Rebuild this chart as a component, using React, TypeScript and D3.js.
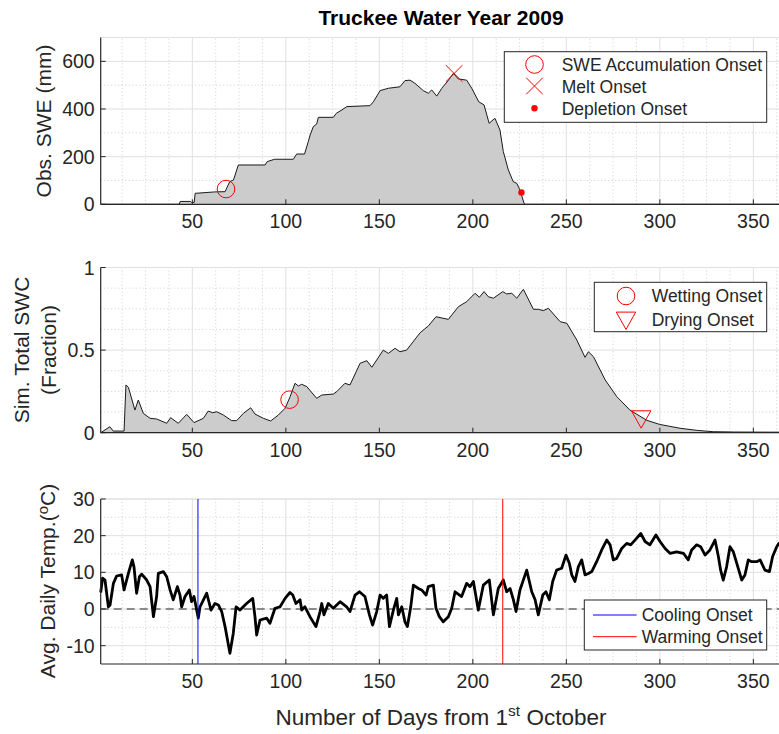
import React from "react";
import * as d3 from "d3";

// ---------------- data ----------------
const sweDays = [1, 43, 43.5, 49, 49.5, 51, 51.5, 62, 67.5, 70, 72, 74.6, 88.9, 90, 94, 104, 105.8, 110, 112, 113, 114.7, 116.5, 117.4, 125.4, 127, 130, 132.6, 145, 146.8, 150.4, 154.8, 161, 163.7, 166.4, 169, 173.5, 176.2, 178, 180.7, 183.4, 187, 189.6, 192.2, 196.7, 199.4, 203.2, 206, 208.7, 211.8, 214.5, 216.3, 219, 221.6, 223.5, 225.2, 227.4, 228, 365];
const sweVals = [0, 0, 12, 12, 8, 8, 46, 52, 53, 95, 102, 165, 165, 179, 189, 189, 211, 211, 263, 291, 326, 337, 365, 365, 382, 396, 410, 414, 430, 477, 487, 493, 519, 521, 508, 477, 466, 480, 454, 487, 521, 550, 526, 521, 487, 430, 417, 340, 361, 312, 221, 144, 95, 88, 60, 4, 0, 0];

const swcDays = [1, 5.9, 7.7, 13.5, 14.5, 15.8, 19.3, 21.1, 23.8, 27.4, 30.9, 36.3, 38.4, 42.5, 47, 50.9, 55.9, 58.5, 60.9, 63, 66.6, 71, 73.7, 77.3, 81.2, 83.5, 88, 91.9, 96, 99.6, 102.3, 104.9, 106.7, 108.5, 111.2, 116.5, 119.2, 125.4, 127.2, 131.6, 134.3, 139.7, 143.3, 146, 152.1, 154.8, 158.4, 161, 164.6, 171.8, 176.2, 180.3, 186.9, 192.3, 196.7, 201.2, 203.5, 206, 208.3, 211, 216, 218.1, 220.8, 223.5, 227, 232.4, 235, 237.7, 240.4, 246.7, 250.3, 255.6, 260, 261.8, 264.5, 270.8, 277, 284, 293, 300, 310.8, 320, 328.6, 340, 365];
const swcVals = [0, 0.036, 0.01, 0.01, 0.289, 0.275, 0.137, 0.198, 0.117, 0.087, 0.083, 0.057, 0.091, 0.057, 0.111, 0.061, 0.087, 0.131, 0.121, 0.127, 0.107, 0.073, 0.073, 0.117, 0.151, 0.113, 0.087, 0.071, 0.107, 0.148, 0.218, 0.299, 0.283, 0.293, 0.279, 0.208, 0.228, 0.234, 0.248, 0.299, 0.289, 0.42, 0.436, 0.396, 0.5, 0.48, 0.511, 0.49, 0.5, 0.605, 0.646, 0.702, 0.686, 0.763, 0.793, 0.844, 0.82, 0.854, 0.823, 0.814, 0.854, 0.84, 0.844, 0.814, 0.868, 0.747, 0.747, 0.739, 0.753, 0.672, 0.662, 0.561, 0.456, 0.49, 0.46, 0.319, 0.218, 0.137, 0.075, 0.05, 0.027, 0.014, 0.006, 0.004, 0.003];

const tempDays = [1, 2, 3.3, 5.1, 6, 7.8, 9.5, 12.2, 13.5, 15.8, 17.9, 18.8, 20.2, 21.7, 22.9, 25.6, 27.4, 29.2, 30.9, 31.8, 34.5, 36.3, 38.1, 39.8, 42, 43.4, 44.3, 46.1, 48.4, 49.6, 50.9, 53.2, 54.1, 57.7, 60, 62.1, 63.9, 65.7, 67.5, 70.1, 71.9, 73.4, 75.5, 79, 82.3, 83.5, 84.4, 86.2, 89.8, 91.5, 94.2, 96.9, 99.6, 102.2, 103.7, 105.4, 107.6, 108.5, 110.2, 112.9, 116.1, 118.3, 119.2, 120.4, 122.7, 125.4, 129, 132.5, 134.3, 137, 139.3, 142.3, 144.7, 146.4, 148.6, 150.4, 152.1, 153.9, 155.4, 157.5, 159.3, 160.2, 162, 163.7, 165, 166.8, 168.2, 170.9, 172.6, 175, 176.2, 178.9, 180.3, 182.1, 184.2, 186.9, 188.7, 190.5, 194, 196.7, 198.5, 200.3, 202.9, 205.6, 208.8, 211, 213.6, 216.3, 218.1, 219.9, 221.7, 223.1, 225.2, 228.8, 231.5, 233.3, 235, 237.4, 239.1, 240.9, 242.7, 244.8, 247.5, 249.8, 251.6, 252.9, 254.6, 256.4, 258.2, 260, 261.8, 263.6, 266.2, 268.9, 271.6, 273.4, 275.1, 276.9, 279.6, 282.3, 284.4, 286.7, 289.8, 292.1, 294.7, 297.9, 300.1, 302.8, 305.4, 309, 312.6, 315.2, 317, 319.7, 321.8, 324.2, 326.8, 329.5, 331.3, 332.5, 333.9, 335.7, 337.5, 339.3, 341.1, 343.8, 345.5, 347.3, 349.1, 351.8, 353.6, 356.2, 358.6, 360.3, 362.5, 363.7, 365];
const tempVals = [4.5, 8.4, 7.9, 0.6, 1.1, 7, 9, 9.3, 5.2, 9.7, 13.4, 11.5, 4.3, 8.8, 9.5, 7.9, 6.1, -2.1, 3.4, 9.7, 10.2, 8.8, 5.2, 2.5, 6.1, 3.8, 0.6, 3.4, 5.2, 2, 3.4, -2.5, 0.6, 4.3, -0.3, 1.5, 1.1, -0.7, -4.8, -12.1, -6.6, 0.6, -0.3, 1.5, 2.9, -2.1, -7.1, -3, -2.5, -3.9, 0.2, 0.6, 2.9, 4.5, 3.8, 1.5, 2.5, -0.3, 0.6, -2.1, -4.8, -0.7, 1.5, -1.6, 1.5, 0.2, 2, 0.6, -0.7, 3.8, 4.7, 3.4, -1.6, -4.4, -0.7, 3.8, 2.9, 3.8, -4.8, -0.3, 2.9, -1.6, 0.6, -3.5, -4.8, 0.6, 6.5, 5.6, 5.2, 3.8, 6.1, 6.5, 0.2, -2.1, -3.5, -2.1, 0.2, 4.7, 3.4, 7, 6.1, 7.5, -0.3, 6.5, 7.9, -1.6, 5.6, 7.9, 4.7, 5.6, 2.5, -0.7, 5.2, 10.6, 4.7, 2.5, -1.6, 3.8, 4.7, 2.5, 7.5, 10.6, 11.1, 14.7, 12.5, 9.3, 7.5, 11.5, 13.4, 9.3, 9.7, 10.2, 12.9, 16.1, 18.8, 17.5, 13.4, 13.8, 16.5, 17.9, 17.5, 18.8, 20.6, 18.4, 17.5, 20.2, 18.4, 16.5, 15.2, 15.6, 15.2, 13.4, 16.1, 17.5, 17, 14.7, 16.1, 18.8, 14.3, 10.6, 7.9, 11.5, 17, 15.6, 12.5, 7.9, 9.3, 13.4, 12.9, 12.9, 13.4, 10.6, 10.2, 14.3, 17, 17.9, 18];

// onset markers
const sweAccumOnset = [68, 64];
const meltOnset = [190, 549];
const depletionOnset = [226, 50];
const wettingOnset = [102, 0.2];
const dryingOnset = [290, 0.08];
const coolingOnsetDay = 53;
const warmingOnsetDay = 216;

const xTicks = [50, 100, 150, 200, 250, 300, 350];
const sweTicks = [0, 200, 400, 600];
const swcTicks = [0, 0.5, 1];
const tempTicks = [-10, 0, 10, 20, 30];

// ---------------- layout ----------------
const W = 779, H = 734;
const FONT = "'Liberation Sans', Arial, Helvetica, sans-serif";
const TXT = "#262626";
const TICK_FS = 19.5;
const LABEL_FS = 21;
const x = d3.scaleLinear().domain([1, 365]).range([100.7, 781.4]);

const xMinor = d3.range(12.5, 365, 12.5).filter((d) => d % 50 !== 0);

type PanelProps = {
  y: d3.ScaleLinear<number, number>;
  ticks: number[];
  minor: number[];
  fmt: (d: number) => string;
  children?: React.ReactNode;
};

function Panel({ y, ticks, minor, fmt, children }: PanelProps) {
  const [y0, y1] = y.range();
  const [x0, x1] = x.range();
  return (
    <g>
      {xMinor.map((d) => (
        <line key={"xm" + d} x1={x(d)} x2={x(d)} y1={y0} y2={y1} stroke="#c4c4c4" strokeWidth={0.8} strokeDasharray="1,2.5" />
      ))}
      {minor.map((d) => (
        <line key={"ym" + d} x1={x0} x2={x1} y1={y(d)} y2={y(d)} stroke="#c4c4c4" strokeWidth={0.8} strokeDasharray="1,2.5" />
      ))}
      {xTicks.map((d) => (
        <line key={"xg" + d} x1={x(d)} x2={x(d)} y1={y0} y2={y1} stroke="#e0e0e0" strokeWidth={1} />
      ))}
      {ticks.map((d) => (
        <line key={"yg" + d} x1={x0} x2={x1} y1={y(d)} y2={y(d)} stroke="#e0e0e0" strokeWidth={1} />
      ))}
      <line x1={x0} x2={x1} y1={y1} y2={y1} stroke="#e0e0e0" strokeWidth={1} />
      {children}
      <line x1={x0} x2={x1} y1={y0} y2={y0} stroke={TXT} strokeWidth={1.2} />
      <line x1={x0} x2={x0} y1={y0} y2={y1} stroke={TXT} strokeWidth={1.2} />
      {xTicks.map((d) => (
        <g key={"xt" + d}>
          <line x1={x(d)} x2={x(d)} y1={y0} y2={y0 - 5} stroke={TXT} strokeWidth={1} />
          <text x={x(d)} y={y0 + 24} textAnchor="middle" fontSize={TICK_FS} fill={TXT} fontFamily={FONT}>{d}</text>
        </g>
      ))}
      {ticks.map((d) => (
        <g key={"yt" + d}>
          <line x1={x0} x2={x0 + 5} y1={y(d)} y2={y(d)} stroke={TXT} strokeWidth={1} />
          <text x={x0 - 6} y={y(d)} dy="0.36em" textAnchor="end" fontSize={TICK_FS} fill={TXT} fontFamily={FONT}>{fmt(d)}</text>
        </g>
      ))}
    </g>
  );
}

function Legend({ x0, y0, x1, y1, children }: { x0: number; y0: number; x1: number; y1: number; children?: React.ReactNode }) {
  return (
    <g>
      <rect x={x0} y={y0} width={x1 - x0} height={y1 - y0} fill="white" stroke={TXT} strokeWidth={1} />
      {children}
    </g>
  );
}

const LTxt = ({ x: tx, y: ty, t }: { x: number; y: number; t: string }) => (
  <text x={tx} y={ty} dy="0.36em" fontSize={17.5} fill={TXT} fontFamily={FONT}>{t}</text>
);

const Circ = ({ cx, cy }: { cx: number; cy: number }) => <circle cx={cx} cy={cy} r={8.8} fill="none" stroke="#ff0000" strokeWidth={1} />;
const XMark = ({ cx, cy }: { cx: number; cy: number }) => (
  <g stroke="#ff0000" strokeWidth={1}>
    <line x1={cx - 8.3} y1={cy - 8.3} x2={cx + 8.3} y2={cy + 8.3} />
    <line x1={cx - 8.3} y1={cy + 8.3} x2={cx + 8.3} y2={cy - 8.3} />
  </g>
);
const Dot = ({ cx, cy }: { cx: number; cy: number }) => <circle cx={cx} cy={cy} r={3.2} fill="#ff0000" />;
const Tri = ({ cx, cy }: { cx: number; cy: number }) => (
  <path d={`M${cx - 9.7},${cy - 8.7}L${cx + 9.7},${cy - 8.7}L${cx},${cy + 8.7}Z`} fill="none" stroke="#ff0000" strokeWidth={1} />
);

export default function App() {
  const y1 = d3.scaleLinear().domain([0, 700]).range([204.3, 37.5]);
  const y2 = d3.scaleLinear().domain([0, 1]).range([432.7, 267.5]);
  const y3 = d3.scaleLinear().domain([-15, 30]).range([664, 499]);

  const swe = sweDays.map((d, i) => [d, sweVals[i]] as [number, number]);
  const swc = swcDays.map((d, i) => [d, swcVals[i]] as [number, number]);
  const tmp = tempDays.map((d, i) => [d, tempVals[i]] as [number, number]);

  const area1 = d3.area<[number, number]>().x((d) => x(d[0])).y0(y1(0)).y1((d) => y1(d[1]));
  const line1 = d3.line<[number, number]>().x((d) => x(d[0])).y((d) => y1(d[1]));
  const area2 = d3.area<[number, number]>().x((d) => x(d[0])).y0(y2(0)).y1((d) => y2(d[1]));
  const line2 = d3.line<[number, number]>().x((d) => x(d[0])).y((d) => y2(d[1]));
  const line3 = d3.line<[number, number]>().x((d) => x(d[0])).y((d) => y3(d[1]));

  const sweMinor = [100, 300, 500];
  const swcMinor = d3.range(0.125, 1, 0.125).filter((d) => Math.abs(d - 0.5) > 1e-6);
  const tempMinor = [-5, 5, 15, 25];

  return (
    <svg width={W} height={H} style={{ position: "absolute", left: 0, top: 0, display: "block", background: "white" }} fontFamily={FONT}>
      <rect width={W} height={H} fill="white" />
      <text x={441} y={25} textAnchor="middle" fontSize={21} fontWeight="bold" fill="#000">Truckee Water Year 2009</text>

      {/* Panel 1 */}
      <Panel y={y1} ticks={sweTicks} minor={sweMinor} fmt={(d) => String(d)}>
        <path d={area1(swe) || ""} fill="#cccccc" stroke="none" />
        <path d={line1(swe) || ""} fill="none" stroke="#1a1a1a" strokeWidth={1} />
        <Circ cx={x(sweAccumOnset[0])} cy={y1(sweAccumOnset[1])} />
        <XMark cx={x(meltOnset[0])} cy={y1(meltOnset[1])} />
        <Dot cx={x(depletionOnset[0])} cy={y1(depletionOnset[1])} />
      </Panel>
      <text transform={`translate(51,121) rotate(-90)`} textAnchor="middle" fontSize={LABEL_FS} fill={TXT}>Obs. SWE (mm)</text>
      <Legend x0={504.3} y0={51.7} x1={766.7} y1={122.3}>
        <Circ cx={534.5} cy={64.5} />
        <LTxt x={561.7} y={64.5} t="SWE Accumulation Onset" />
        <XMark cx={534.5} cy={86} />
        <LTxt x={561.7} y={86.5} t="Melt Onset" />
        <Dot cx={534.5} cy={108.3} />
        <LTxt x={561.7} y={108.5} t="Depletion Onset" />
      </Legend>

      {/* Panel 2 */}
      <Panel y={y2} ticks={swcTicks} minor={swcMinor} fmt={(d) => String(d)}>
        <path d={area2(swc) || ""} fill="#cccccc" stroke="none" />
        <path d={line2(swc) || ""} fill="none" stroke="#1a1a1a" strokeWidth={1} />
        <Circ cx={x(wettingOnset[0])} cy={y2(wettingOnset[1])} />
        <Tri cx={x(dryingOnset[0])} cy={y2(dryingOnset[1])} />
      </Panel>
      <text transform={`translate(28.5,350) rotate(-90)`} textAnchor="middle" fontSize={LABEL_FS} fill={TXT}>Sim. Total SWC</text>
      <text transform={`translate(55.5,350) rotate(-90)`} textAnchor="middle" fontSize={LABEL_FS} fill={TXT}>(Fraction)</text>
      <Legend x0={594.3} y0={282.3} x1={766.7} y1={331.7}>
        <Circ cx={626} cy={296} />
        <LTxt x={651.7} y={296} t="Wetting Onset" />
        <Tri cx={626} cy={320.8} />
        <LTxt x={651.7} y={319.5} t="Drying Onset" />
      </Legend>

      {/* Panel 3 */}
      <Panel y={y3} ticks={tempTicks} minor={tempMinor} fmt={(d) => String(d)}>
        <line x1={x(1)} x2={x(365)} y1={y3(0)} y2={y3(0)} stroke="#262626" strokeWidth={1} strokeDasharray="8,5" />
        <path d={line3(tmp) || ""} fill="none" stroke="#000" strokeWidth={2.8} strokeLinejoin="round" />
        <line x1={x(coolingOnsetDay)} x2={x(coolingOnsetDay)} y1={y3(-15)} y2={y3(30)} stroke="#0000ff" strokeWidth={1} />
        <line x1={x(warmingOnsetDay)} x2={x(warmingOnsetDay)} y1={y3(-15)} y2={y3(30)} stroke="#ff0000" strokeWidth={1} />
      </Panel>
      <text transform={`translate(55,581) rotate(-90)`} textAnchor="middle" fontSize={LABEL_FS} fill={TXT}>
        Avg. Daily Temp.(<tspan dy={-7.5} fontSize={15}>o</tspan><tspan dy={7.5}>C)</tspan>
      </text>
      <Legend x0={584.3} y0={600} x1={766.7} y1={650}>
        <line x1={593} x2={636.7} y1={615} y2={615} stroke="#0000ff" strokeWidth={1} />
        <LTxt x={641.7} y={615} t="Cooling Onset" />
        <line x1={593} x2={636.7} y1={636.7} y2={636.7} stroke="#ff0000" strokeWidth={1} />
        <LTxt x={641.7} y={636.7} t="Warming Onset" />
      </Legend>

      <text x={441} y={725} textAnchor="middle" fontSize={22.5} fill={TXT}>
        Number of Days from 1<tspan dy={-9} fontSize={15.5}>st</tspan><tspan dy={9}> October</tspan>
      </text>
    </svg>
  );
}
